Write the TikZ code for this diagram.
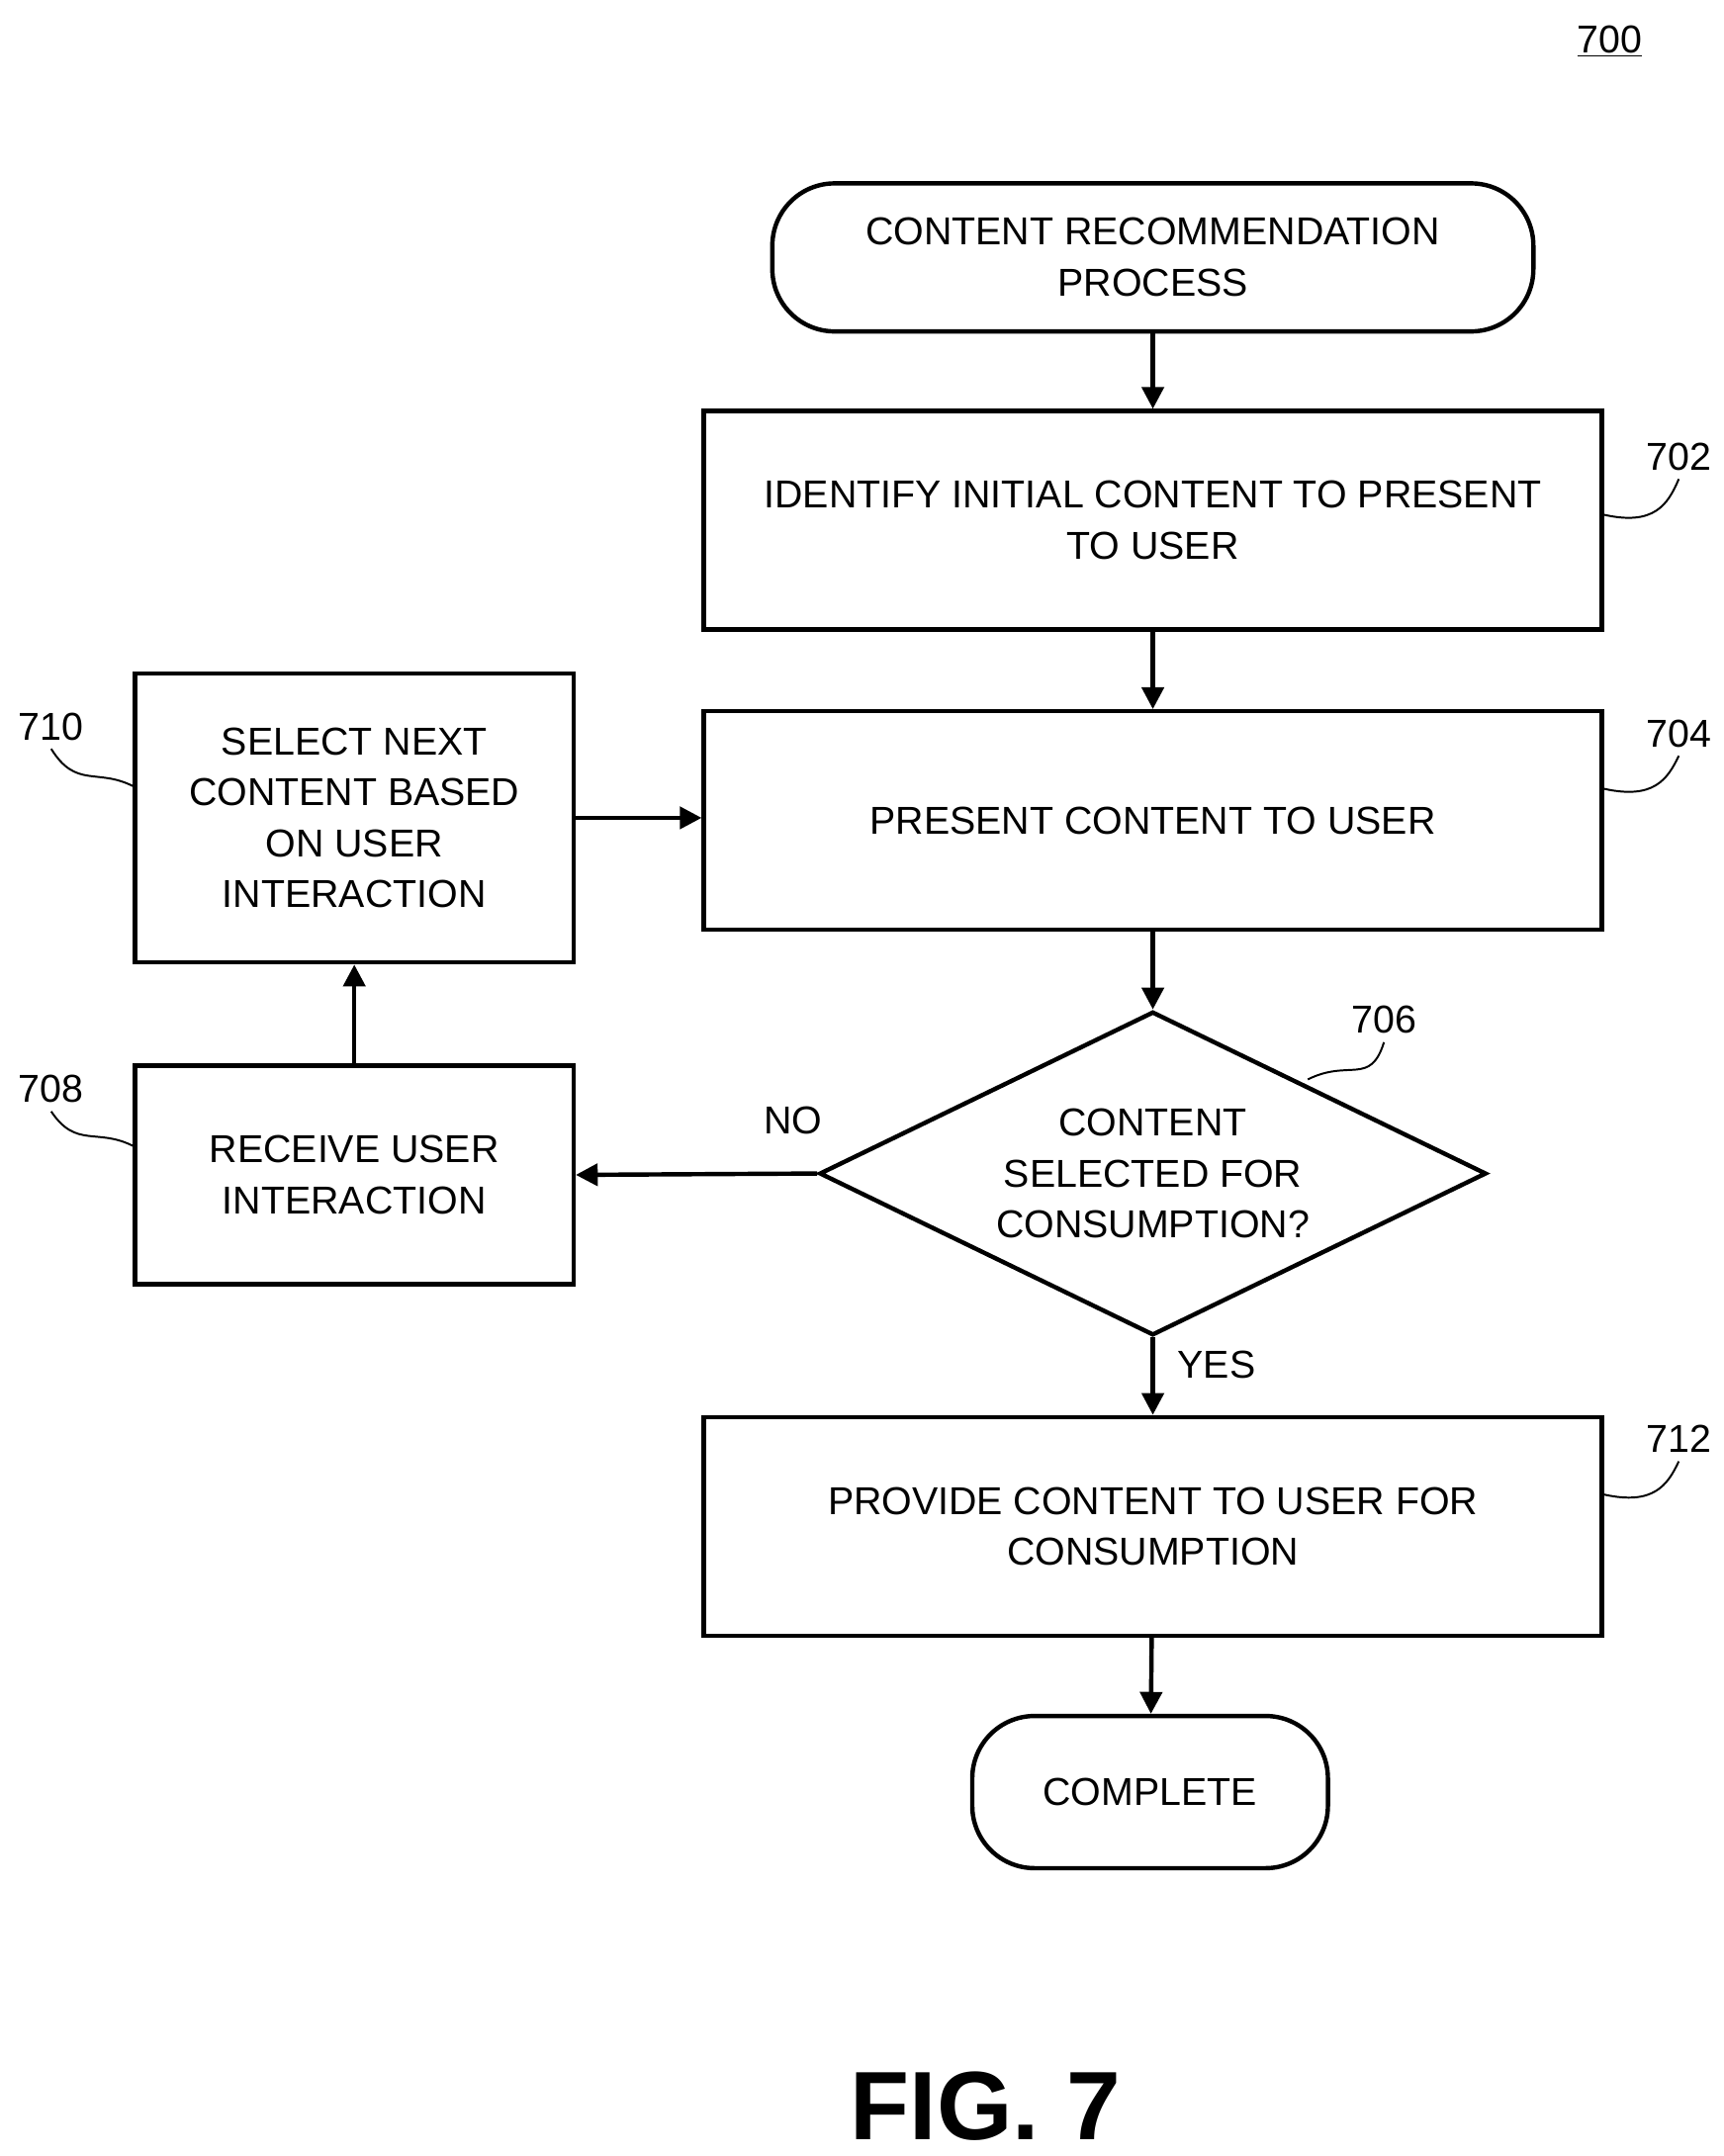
\documentclass[tikz,border=0pt]{standalone}
\usepackage{fontspec}
\setmainfont{Liberation Sans}
\usetikzlibrary{shapes.geometric,arrows.meta}

\tikzset{
  flow/.style={line width=1.8pt},
  procbox/.style={flow,draw,rectangle,minimum width=12.98cm,minimum height=3.16cm,align=center,
    font=\fontsize{16}{21}\selectfont},
  side/.style={procbox,minimum width=6.34cm},
  term/.style={procbox,rounded corners=0.9cm},
  ask/.style={flow,draw,diamond,minimum width=9.64cm,minimum height=4.68cm,inner sep=0pt},
  arr/.style={flow,-{Triangle[length=9pt,width=9pt]}},
  ref/.style={font=\fontsize{16}{21}\selectfont},
  wig/.style={line width=0.8pt},
}

\begin{document}
\begin{tikzpicture}[x=0.02cm,y=-0.02cm]
\useasboundingbox (0,0) rectangle (1245,1558);

% main column
\node[term,minimum width=11cm,minimum height=2.14cm] (start) at (833,186) {CONTENT RECOMMENDATION\\PROCESS};
\node[procbox] (s702) at (833,376) {IDENTIFY INITIAL CONTENT TO PRESENT\\TO USER};
\node[procbox] (s704) at (833,593) {PRESENT CONTENT TO USER};
\node[ask] (s706) at (833,848) {};
\node[ref,align=center] (q706) at (s706.center) {CONTENT\\SELECTED FOR\\CONSUMPTION?};
\node[procbox] (s712) at (833,1103) {PROVIDE CONTENT TO USER FOR\\CONSUMPTION};
\node[term,minimum width=5.14cm,minimum height=2.2cm] (done) at (831,1295) {COMPLETE};

% loop column
\node[side,minimum height=4.18cm] (s710) at (256,591) {SELECT NEXT\\CONTENT BASED\\ON USER\\INTERACTION};
\node[side] (s708) at (256,849) {RECEIVE USER\\INTERACTION};

\draw[arr] (start) -- (s702);
\draw[arr] (s702) -- (s704);
\draw[arr] (s704) -- (s706);
\draw[arr] (s706) -- node[ref,right,xshift=6pt,pos=0.35] {YES} (s712);
\draw[arr] (s712) -- (done);
\draw[arr] (s706.west) -- node[ref,above,yshift=12pt,pos=0.1] {NO} (s708.east);
\draw[arr] (s708) -- (s710);
\draw[arr] (s710.east) -- (s704.west |- s710.east);

% reference numerals
\node[ref] (n700) at (1163,30) {\underline{700}};
\node[ref] (n702) at (1213,330) {702};
\node[ref] (n704) at (1213,530) {704};
\node[ref] (n706) at (1000,737) {706};
\node[ref] (n708) at (37,787) {708};
\node[ref] (n710) at (37,525) {710};
\node[ref] (n712) at (1213,1040) {712};
\draw[wig] (s702.east |- 0,372) .. controls (1195,380) and (1205,365) .. (n702.south);
\draw[wig] (s704.east |- 0,570) .. controls (1195,578) and (1205,563) .. (n704.south);
\draw[wig] (s712.east |- 0,1080) .. controls (1195,1088) and (1205,1073) .. (n712.south);
\draw[wig] (945,780) .. controls (975,765) and (990,785) .. (n706.south);
\draw[wig] (s708.west |- 0,828) .. controls (70,815) and (55,830) .. (n708.south);
\draw[wig] (s710.west |- 0,568) .. controls (70,555) and (55,570) .. (n710.south);

\node[font=\fontsize{40}{46}\selectfont\bfseries] (fig) at (712,1522) {FIG. 7};
\end{tikzpicture}
\end{document}
